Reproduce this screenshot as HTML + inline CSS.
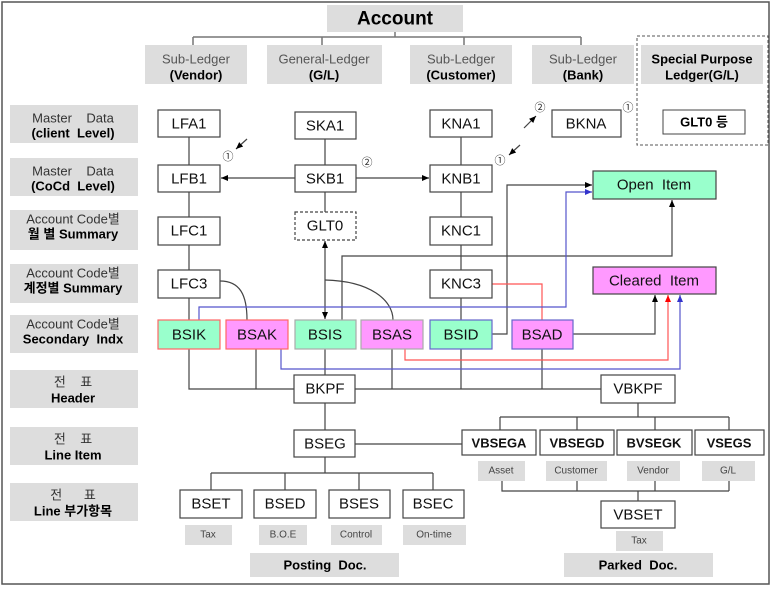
<!DOCTYPE html>
<html><head><meta charset="utf-8"><style>
body{margin:0;background:#fff}
svg text{font-family:"Liberation Sans","Noto Sans CJK KR",sans-serif;text-anchor:middle;dominant-baseline:central;white-space:pre}
</style></head><body>
<svg width="773" height="587" viewBox="0 0 773 587" xmlns="http://www.w3.org/2000/svg">
<defs>
<marker id="ak" markerWidth="8" markerHeight="8" refX="7" refY="4" orient="auto" markerUnits="userSpaceOnUse"><path d="M0,1 L7,4 L0,7z" fill="#000"/></marker>
<marker id="ar" markerWidth="8" markerHeight="8" refX="7" refY="4" orient="auto" markerUnits="userSpaceOnUse"><path d="M0,1 L7,4 L0,7z" fill="#f00"/></marker>
<marker id="ab" markerWidth="8" markerHeight="8" refX="7" refY="4" orient="auto" markerUnits="userSpaceOnUse"><path d="M0,1 L7,4 L0,7z" fill="#33c"/></marker>
</defs>
<rect x="2" y="2" width="767" height="582" fill="#fff" stroke="#555" stroke-width="1.5"/>
<rect x="327" y="5" width="136" height="27" fill="#ddd"/>
<text x="395" y="19" font-size="19" font-weight="bold">Account</text>
<g stroke="#777" stroke-width="1.5" fill="none">
<path d="M395 32V37M193 37H581M193 37V46M322 37V46M464 37V46M581 37V46"/>
</g>
<g font-size="13">
<rect x="145" y="45" width="102" height="39" fill="#ddd"/><text x="196" y="59" fill="#555">Sub-Ledger</text><text x="196" y="75" font-weight="bold">(Vendor)</text>
<rect x="267" y="45" width="115" height="39" fill="#ddd"/><text x="324" y="59" fill="#555">General-Ledger</text><text x="324" y="75" font-weight="bold">(G/L)</text>
<rect x="410" y="45" width="102" height="39" fill="#ddd"/><text x="461" y="59" fill="#555">Sub-Ledger</text><text x="461" y="75" font-weight="bold">(Customer)</text>
<rect x="532" y="45" width="102" height="39" fill="#ddd"/><text x="583" y="59" fill="#555">Sub-Ledger</text><text x="583" y="75" font-weight="bold">(Bank)</text>
<rect x="637" y="36" width="131" height="109" fill="none" stroke="#555" stroke-dasharray="3,2"/>
<rect x="641" y="45" width="122" height="39" fill="#ddd"/><text x="702" y="59" font-weight="bold">Special Purpose</text><text x="702" y="75" font-weight="bold">Ledger(G/L)</text>
<rect x="663" y="110" width="82" height="24" fill="#fff" stroke="#444"/><text x="704" y="122" font-weight="bold">GLT0 등</text>
</g>
<g font-size="13">
<rect x="10" y="105" width="128" height="38" fill="#ddd"/><text x="73" y="118" fill="#333">Master    Data</text><text x="73" y="133" font-weight="bold">(client  Level)</text>
<rect x="10" y="158" width="128" height="38" fill="#ddd"/><text x="73" y="171" fill="#333">Master    Data</text><text x="73" y="186" font-weight="bold">(CoCd  Level)</text>
<rect x="10" y="210" width="128" height="40" fill="#ddd"/><text x="73" y="219" fill="#333">Account Code별</text><text x="73" y="234" font-weight="bold">월 별 Summary</text>
<rect x="10" y="264" width="128" height="39" fill="#ddd"/><text x="73" y="273" fill="#333">Account Code별</text><text x="73" y="288" font-weight="bold">계정별 Summary</text>
<rect x="10" y="315" width="128" height="38" fill="#ddd"/><text x="73" y="324" fill="#333">Account Code별</text><text x="73" y="339" font-weight="bold">Secondary  Indx</text>
<rect x="10" y="370" width="128" height="38" fill="#ddd"/><text x="73" y="382" fill="#333">전    표</text><text x="73" y="398" font-weight="bold">Header</text>
<rect x="10" y="427" width="128" height="38" fill="#ddd"/><text x="73" y="439" fill="#333">전    표</text><text x="73" y="455" font-weight="bold">Line Item</text>
<rect x="10" y="483" width="128" height="38" fill="#ddd"/><text x="73" y="495" fill="#333">전      표</text><text x="73" y="511" font-weight="bold">Line 부가항목</text>
</g>
<g stroke="#444" stroke-width="1.2" fill="none">
<path d="M189 137V165M189 192V217M189 245V270M189 298V320"/>
<path d="M325 139V165M325 192V212"/>
<path d="M461 137V165M461 192V217M461 245V270M461 298V320"/>
<path d="M295 178H221" marker-end="url(#ak)"/>
<path d="M356 178H429" marker-end="url(#ak)"/>
<path d="M325 282V319" marker-end="url(#ak)"/>
<path d="M325 282V241" marker-end="url(#ak)"/>
<path d="M220 281C240 281 247 295 247 320"/>
<path d="M325 280C370 281 393 300 393 320"/>
<path d="M342 320V256H672V200" marker-end="url(#ak)"/>
<path d="M492 334H507V185H592" marker-end="url(#ak)"/>
<path d="M573 334H655V295" marker-end="url(#ak)"/>
<path d="M189 349V389H294M256 349V389M325 349V375M392 349V389M461 349V389M542 349V389M355 389H601"/>
<path d="M325 403V430M355 444H462M325 457V473M211 473H433M211 473V490M285 473V490M359 473V490M433 473V490"/>
<path d="M638 403V417M500 417H729M500 417V430M577 417V430M655 417V430M729 417V430"/>
<path d="M502 481V491H729M729 481V491M577 481V491M655 481V491M638 491V501M502 481V491"/>
<path d="M247 139L236 149" marker-end="url(#ak)"/>
<path d="M520 145L509 155" marker-end="url(#ak)"/>
<path d="M524 128L536 116" marker-end="url(#ak)"/>
</g>
<g stroke="#f55" stroke-width="1.2" fill="none">
<path d="M492 284H542V320"/>
<path d="M405 349V360H668V295" marker-end="url(#ar)"/>
</g>
<g stroke="#55c" stroke-width="1.2" fill="none">
<path d="M199 320V307H566V192H592" marker-end="url(#ab)"/>
<path d="M281 349V369H680V295" marker-end="url(#ab)"/>
</g>
<g font-size="11" fill="#333">
<text x="228" y="157">①</text><text x="367" y="163">②</text><text x="500" y="161">①</text><text x="540" y="108">②</text><text x="628" y="108">①</text>
</g>
<g font-size="15" stroke-width="1.2">
<g stroke="#444" fill="#fff">
<rect x="158" y="110" width="62" height="27"/><rect x="295" y="112" width="61" height="27"/><rect x="430" y="110" width="62" height="27"/><rect x="552" y="110" width="69" height="27"/>
<rect x="158" y="165" width="62" height="27"/><rect x="295" y="165" width="61" height="27"/><rect x="430" y="165" width="62" height="27"/>
<rect x="158" y="217" width="62" height="28"/><rect x="430" y="217" width="62" height="28"/>
<rect x="158" y="270" width="62" height="28"/><rect x="430" y="270" width="62" height="28"/>
<rect x="294" y="375" width="61" height="28"/><rect x="601" y="375" width="74" height="28"/>
<rect x="294" y="430" width="61" height="27"/>
<rect x="462" y="430" width="74" height="25"/><rect x="540" y="430" width="74" height="25"/><rect x="617" y="430" width="75" height="25"/><rect x="695" y="430" width="69" height="25"/>
<rect x="180" y="490" width="62" height="28"/><rect x="254" y="490" width="62" height="28"/><rect x="329" y="490" width="61" height="28"/><rect x="403" y="490" width="61" height="28"/>
<rect x="601" y="501" width="74" height="27"/>
</g>
<rect x="295" y="212" width="61" height="28" fill="#fff" stroke="#444" stroke-dasharray="3,2"/>
<rect x="158" y="320" width="62" height="29" fill="#99ffcc" stroke="#f66"/>
<rect x="226" y="320" width="62" height="29" fill="#ff99ff" stroke="#f66"/>
<rect x="295" y="320" width="61" height="29" fill="#99ffcc" stroke="#aaa"/>
<rect x="361" y="320" width="62" height="29" fill="#ff99ff" stroke="#aaa"/>
<rect x="430" y="320" width="62" height="29" fill="#99ffcc" stroke="#66c"/>
<rect x="512" y="320" width="61" height="29" fill="#ff99ff" stroke="#66c"/>
<rect x="593" y="171" width="123" height="28" fill="#99ffcc" stroke="#444"/>
<rect x="593" y="267" width="123" height="27" fill="#ff99ff" stroke="#444"/>
<g fill="#111">
<text x="189" y="124">LFA1</text><text x="325" y="126">SKA1</text><text x="461" y="124">KNA1</text><text x="586" y="124">BKNA</text>
<text x="189" y="179">LFB1</text><text x="325" y="179">SKB1</text><text x="461" y="179">KNB1</text>
<text x="189" y="231">LFC1</text><text x="325" y="226">GLT0</text><text x="461" y="231">KNC1</text>
<text x="189" y="284">LFC3</text><text x="461" y="284">KNC3</text>
<text x="189" y="335">BSIK</text><text x="257" y="335">BSAK</text><text x="325" y="335">BSIS</text><text x="392" y="335">BSAS</text><text x="461" y="335">BSID</text><text x="542" y="335">BSAD</text>
<text x="654" y="185">Open  Item</text><text x="654" y="281">Cleared  Item</text>
<text x="325" y="389">BKPF</text><text x="638" y="389">VBKPF</text>
<text x="325" y="444">BSEG</text>
<text x="499" y="443" font-size="13" font-weight="bold">VBSEGA</text><text x="577" y="443" font-size="13" font-weight="bold">VBSEGD</text><text x="654" y="443" font-size="13" font-weight="bold">BVSEGK</text><text x="729" y="443" font-size="13" font-weight="bold">VSEGS</text>
<text x="211" y="504">BSET</text><text x="285" y="504">BSED</text><text x="359" y="504">BSES</text><text x="433" y="504">BSEC</text>
<text x="638" y="515">VBSET</text>
</g>
</g>
<g font-size="10" fill="#444">
<rect x="478" y="461" width="47" height="20" fill="#ddd"/><text x="501" y="471">Asset</text>
<rect x="546" y="461" width="61" height="20" fill="#ddd"/><text x="576" y="471">Customer</text>
<rect x="627" y="461" width="53" height="20" fill="#ddd"/><text x="653" y="471">Vendor</text>
<rect x="702" y="461" width="53" height="20" fill="#ddd"/><text x="728" y="471">G/L</text>
<rect x="185" y="525" width="47" height="20" fill="#ddd"/><text x="208" y="535">Tax</text>
<rect x="259" y="525" width="48" height="20" fill="#ddd"/><text x="283" y="535">B.O.E</text>
<rect x="331" y="525" width="51" height="20" fill="#ddd"/><text x="356" y="535">Control</text>
<rect x="403" y="525" width="63" height="20" fill="#ddd"/><text x="434" y="535">On-time</text>
<rect x="616" y="531" width="47" height="20" fill="#ddd"/><text x="639" y="541">Tax</text>
</g>
<rect x="250" y="553" width="149" height="24" fill="#ddd"/><text x="325" y="565" font-size="13" font-weight="bold">Posting  Doc.</text>
<rect x="564" y="553" width="149" height="24" fill="#ddd"/><text x="638" y="565" font-size="13" font-weight="bold">Parked  Doc.</text>
</svg>
</body></html>
